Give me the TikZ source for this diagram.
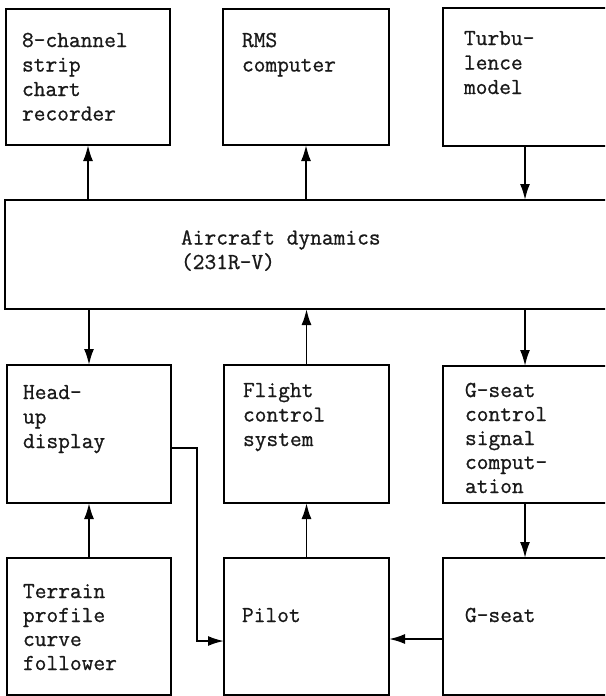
\documentclass[tikz,border=0pt]{standalone}
\usepackage{fontspec}
\newfontfamily\twfont{Latin Modern Mono}[FakeBold=0.9]
\usetikzlibrary{arrows.meta,calc}
\begin{document}
\begin{tikzpicture}[x=1pt,y=-1pt,
  box/.style={draw=black,line width=1.9pt,inner sep=0pt,outer sep=0pt,anchor=north west},
  lbl/.style={inner sep=0pt,outer sep=0pt,anchor=base west,align=left,
    font=\fontsize{22.8}{24.5}\selectfont\twfont,text=black!90},
  arr/.style={line width=1.9pt,-{Latex[length=16pt,width=10pt]}}]
\clip (0,0) rectangle (605,696);
% boxes
\node[box,minimum width=164pt,minimum height=136pt] (rec) at (6,9) {};
\node[box,minimum width=166pt,minimum height=136pt] (rms) at (223,9) {};
\node[box,minimum width=164pt,minimum height=138pt] (turb) at (443,8) {};
\node[box,minimum width=602pt,minimum height=109pt] (ac) at (5,200) {};
\node[box,minimum width=164pt,minimum height=138pt] (hud) at (7,365) {};
\node[box,minimum width=165pt,minimum height=138pt] (fcs) at (224,365) {};
\node[box,minimum width=164pt,minimum height=137pt] (gsc) at (443,366) {};
\node[box,minimum width=164pt,minimum height=137pt] (ter) at (7,558) {};
\node[box,minimum width=165pt,minimum height=137pt] (pil) at (224,558) {};
\node[box,minimum width=164pt,minimum height=137pt] (gs) at (443,558) {};
% labels (anchored at the baseline of the last line)
\node[lbl] (trec) at (22,120.5) {8-channel\\strip\\chart\\recorder};
\node[lbl] (trms) at (242,71.5) {RMS\\computer};
\node[lbl] (tturb) at (464,94) {Turbu-\\lence\\model};
\node[lbl] (tac) at (181,269) {Aircraft dynamics\\(231R-V)};
\node[lbl] (thud) at (23,448) {Head-\\up\\display};
\node[lbl] (tfcs) at (243,446) {Flight\\control\\system};
\node[lbl,font=\fontsize{22.8}{24}\selectfont\twfont] (tgsc) at (465,493) {G-seat\\control\\signal\\comput-\\ation};
\node[lbl,font=\fontsize{22.8}{24}\selectfont\twfont] (tter) at (23,670) {Terrain\\profile\\curve\\follower};
\node[lbl] (tpil) at (242,622) {Pilot};
\node[lbl] (tgs) at (465,622) {G-seat};
% connectors
\draw[arr] (rec.south |- ac.north) -- (rec.south);
\draw[arr] (rms.south |- ac.north) -- (rms.south);
\draw[arr] (turb.south) -- (turb.south |- ac.north);
\draw[arr] (hud.north |- ac.south) -- (hud.north);
\draw[arr] (fcs.north) -- (fcs.north |- ac.south);
\draw[arr] (gsc.north |- ac.south) -- (gsc.north);
\draw[arr] (ter.north) -- (hud.south);
\draw[arr] (pil.north) -- (fcs.south);
\draw[arr] (gsc.south) -- (gs.north);
\draw[arr] ([yshift=-12.5pt]gs.west) -- ([yshift=-12.5pt]pil.east);
\draw[arr] ([yshift=-14pt]hud.east) -- ++(26,0) |- ([yshift=-14.5pt]pil.west);
\end{tikzpicture}
\end{document}
